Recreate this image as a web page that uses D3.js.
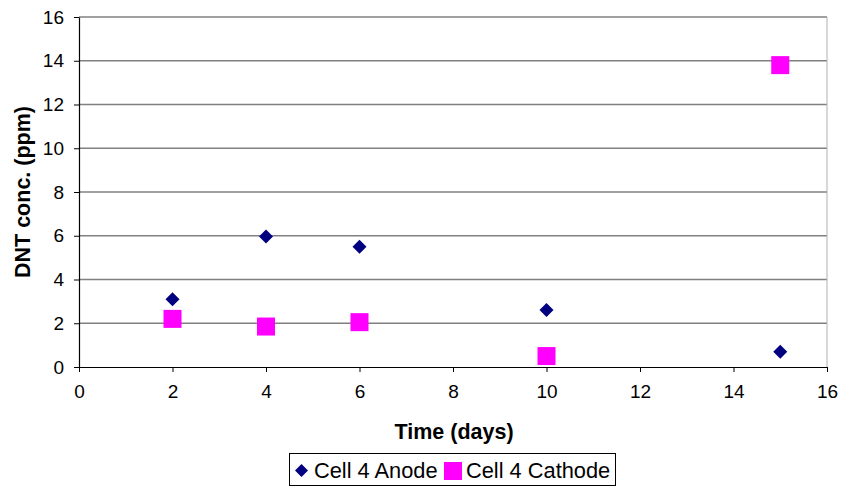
<!DOCTYPE html>
<html><head><meta charset="utf-8">
<script src="https://cdn.jsdelivr.net/npm/d3@7"></script>
<style>body{margin:0;background:#fff}svg{display:block;font-family:"Liberation Sans",Arial,sans-serif}</style>
</head><body>
<svg id="c" width="843" height="489"></svg>
<script>
const days = [2, 4, 6, 10, 15];
const anode = [3.1, 5.97, 5.5, 2.6, 0.7];
const cathode = [2.2, 1.85, 2.05, 0.5, 13.8];
const xTicks = [0, 2, 4, 6, 8, 10, 12, 14, 16];
const yTicks = [0, 2, 4, 6, 8, 10, 12, 14, 16];
const seriesNames = ["Cell 4 Anode", "Cell 4 Cathode"];

const svg = d3.select("#c");
const L = 79, R = 827, T = 17, B = 367;
const x = d3.scaleLinear().domain([0, 16]).range([L, R]);
const y = d3.scaleLinear().domain([0, 16]).range([B, T]);

// gridlines
svg.append("g").selectAll("line").data(yTicks.filter(d => d > 0)).join("line")
  .attr("x1", L).attr("x2", R).attr("y1", d => y(d)).attr("y2", d => y(d))
  .attr("stroke", "#808080").attr("stroke-width", 1.4);
// right border
svg.append("line").attr("x1", R).attr("x2", R).attr("y1", T).attr("y2", B)
  .attr("stroke", "#b0b0b0").attr("stroke-width", 1);

const xAxis = svg.append("g").attr("transform", `translate(0,${B})`)
  .call(d3.axisBottom(x).tickValues(xTicks).tickSize(5).tickPadding(13).tickSizeOuter(0));
const yAxis = svg.append("g").attr("transform", `translate(${L},0)`)
  .call(d3.axisLeft(y).tickValues(yTicks).tickSize(5).tickPadding(10).tickSizeOuter(0));
[xAxis, yAxis].forEach(a => {
  a.select(".domain").attr("stroke", "#000").attr("stroke-width", 1.2);
  a.selectAll(".tick line").attr("stroke", "#000");
  a.selectAll("text").attr("font-size", 19).attr("fill", "#000")
    .attr("font-family", '"Liberation Sans",Arial,sans-serif');
});

svg.append("text").attr("x", (L + R) / 2 + 1).attr("y", 439).attr("text-anchor", "middle")
  .attr("font-size", 21.5).attr("font-weight", "bold").text("Time (days)");
svg.append("text").attr("transform", `translate(30,${(T + B) / 2}) rotate(-90)`)
  .attr("text-anchor", "middle").attr("font-size", 21.5).attr("font-weight", "bold")
  .text("DNT conc. (ppm)");

const diamond = d3.symbol().type(d3.symbolSquare).size(98);
svg.append("g").selectAll("path").data(days.map((d, i) => [d, anode[i]])).join("path")
  .attr("d", diamond())
  .attr("transform", d => `translate(${x(d[0])},${y(d[1])}) rotate(45)`)
  .attr("fill", "#000080");
const sq = 18;
svg.append("g").selectAll("rect").data(days.map((d, i) => [d, cathode[i]])).join("rect")
  .attr("x", d => x(d[0]) - sq / 2).attr("y", d => y(d[1]) - sq / 2)
  .attr("width", sq).attr("height", sq).attr("fill", "#ff00ff");

// legend
const lg = svg.append("g");
lg.append("rect").attr("x", 289.5).attr("y", 453.5).attr("width", 326).attr("height", 32)
  .attr("fill", "#fff").attr("stroke", "#000").attr("stroke-width", 1);
lg.append("path").attr("d", d3.symbol().type(d3.symbolSquare).size(85)())
  .attr("transform", "translate(301.5,470.5) rotate(45)").attr("fill", "#000080");
lg.append("text").attr("x", 314).attr("y", 478).attr("font-size", 21.8).text(seriesNames[0]);
lg.append("rect").attr("x", 444).attr("y", 462).attr("width", 18).attr("height", 18).attr("fill", "#ff00ff");
lg.append("text").attr("x", 466).attr("y", 478).attr("font-size", 21.8).text(seriesNames[1]);
</script>
</body></html>
